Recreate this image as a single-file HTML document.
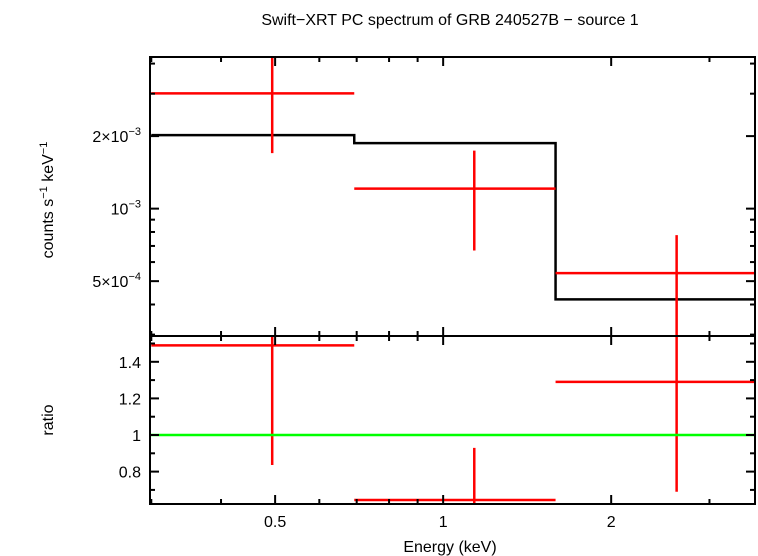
<!DOCTYPE html>
<html><head><meta charset="utf-8"><style>
body{margin:0;background:#fff}
svg{display:block;font-family:"Liberation Sans",sans-serif}
</style></head><body>
<svg id="chart" width="758" height="556" viewBox="0 0 758 556">
<text x="450" y="25" font-size="16" text-anchor="middle">Swift−XRT PC spectrum of GRB 240527B − source 1</text>
<g id="topPanel"></g>
<g id="botPanel"></g>
<text x="450" y="552" font-size="16" text-anchor="middle">Energy (keV)</text>
<text transform="translate(53,200) rotate(-90)" font-size="16" text-anchor="middle">counts s<tspan dy="-6" font-size="11">−1</tspan><tspan dy="6"> keV</tspan><tspan dy="-6" font-size="11">−1</tspan></text>
<text transform="translate(53,420) rotate(-90)" font-size="16" text-anchor="middle">ratio</text>
</svg>
<script>
const binLo=[0.3,0.693,1.59];
const binHi=[0.693,1.59,4.5];
const binMid=[0.494,1.137,2.62];
const rate=[3.01e-3,1.21e-3,5.4e-4];
const rateLo=[1.70e-3,6.7e-4,2.0e-4];
const rateHi=[4.5e-3,1.74e-3,7.76e-4];
const model=[2.02e-3,1.87e-3,4.2e-4];
const ratio=[1.49,0.645,1.29];
const ratioLo=[0.836,0.36,0.69];
const ratioHi=[2.2,0.93,1.87];
const xTicks=[0.5,1,2];
const xMinor=[0.3,0.4,0.6,0.7,0.8,0.9,3];
const yTopTicks=[5e-4,1e-3,2e-3];
const yTopLabels=["5×10<tspan dy='-7' font-size='11'>−4</tspan>","10<tspan dy='-7' font-size='11'>−3</tspan>","2×10<tspan dy='-7' font-size='11'>−3</tspan>"];
const yTopMinor=[3e-4,4e-4,6e-4,7e-4,8e-4,9e-4,3e-3,4e-3];
const yBotTicks=[0.8,1,1.2,1.4];
const yBotMinor=[0.7,0.9,1.1,1.3,1.5];

const L=150,R=755,T=57,M=336,B=504;
const xMin=Math.log10(0.2984),xMax=Math.log10(3.62);
const X=e=>L+(Math.log10(e)-xMin)/(xMax-xMin)*(R-L);
const tMin=Math.log10(2.96e-4),tMax=Math.log10(4.26e-3);
const YT=v=>M-(Math.log10(v)-tMin)/(tMax-tMin)*(M-T);
const bMin=0.623,bMax=1.541;
const YB=v=>B-(v-bMin)/(bMax-bMin)*(B-M);
const NS="http://www.w3.org/2000/svg";
function mk(p,tag,a){const e=document.createElementNS(NS,tag);for(const k in a)e.setAttribute(k,a[k]);p.appendChild(e);return e;}
const svg=document.getElementById('chart');
const topG=document.getElementById('topPanel'),botG=document.getElementById('botPanel');
const defs=mk(svg,'defs',{});
const c1=mk(defs,'clipPath',{id:'c1'});mk(c1,'rect',{x:L,y:T,width:R-L,height:M-T});
const c2=mk(defs,'clipPath',{id:'c2'});mk(c2,'rect',{x:L,y:M,width:R-L,height:B-M});
const gt=mk(topG,'g',{'clip-path':'url(#c1)'});
const gb=mk(botG,'g',{'clip-path':'url(#c2)'});
let d='';
for(let i=0;i<model.length;i++){d+=(i?'L':'M')+X(binLo[i])+','+YT(model[i])+'L'+X(binHi[i])+','+YT(model[i]);}
const mp=mk(gt,'path',{d:d,fill:'none',stroke:'#000','stroke-width':2.5});


for(let i=0;i<rate.length;i++){
  const g=mk(gt,'g',{stroke:'#f00','stroke-width':2.5});
  
  
  mk(g,'line',{x1:X(binLo[i]),x2:X(binHi[i]),y1:YT(rate[i]),y2:YT(rate[i])});
  mk(g,'line',{x1:X(binMid[i]),x2:X(binMid[i]),y1:YT(rateLo[i]),y2:YT(rateHi[i])});
  const h=mk(gb,'g',{stroke:'#f00','stroke-width':2.5});
  
  
  mk(h,'line',{x1:X(binLo[i]),x2:X(binHi[i]),y1:YB(ratio[i]),y2:YB(ratio[i])});
  mk(h,'line',{x1:X(binMid[i]),x2:X(binMid[i]),y1:YB(ratioLo[i]),y2:YB(ratioHi[i])});
}
const one=mk(gb,'line',{x1:L,x2:R,y1:YB(1),y2:YB(1),stroke:'#0f0','stroke-width':2.5});


for(const [g,y1,y2] of [[topG,T,M],[botG,M,B]]){
  const f=mk(g,'rect',{x:L,y:y1,width:R-L,height:y2-y1,fill:'none',stroke:'#000','stroke-width':2});
  
  
  for(const v of xTicks){const x=X(v);mk(g,'line',{x1:x,x2:x,y1:y1,y2:y1+9,stroke:'#000','stroke-width':2});mk(g,'line',{x1:x,x2:x,y1:y2,y2:y2-9,stroke:'#000','stroke-width':2});}
  for(const v of xMinor){const x=X(v);mk(g,'line',{x1:x,x2:x,y1:y1,y2:y1+5,stroke:'#000','stroke-width':2});mk(g,'line',{x1:x,x2:x,y1:y2,y2:y2-5,stroke:'#000','stroke-width':2});}
}
function yt(g,y,len){mk(g,'line',{x1:L,x2:L+len,y1:y,y2:y,stroke:'#000','stroke-width':2});mk(g,'line',{x1:R,x2:R-len,y1:y,y2:y,stroke:'#000','stroke-width':2});}
yTopTicks.forEach((v,i)=>{yt(topG,YT(v),9);const t=mk(topG,'text',{x:141,y:YT(v)+6,'font-size':16,'text-anchor':'end'});t.innerHTML=yTopLabels[i];});
yTopMinor.forEach(v=>yt(topG,YT(v),5));
yBotTicks.forEach(v=>{yt(botG,YB(v),9);const t=mk(botG,'text',{x:141,y:YB(v)+6,'font-size':16,'text-anchor':'end'});t.textContent=String(v);});
yBotMinor.forEach(v=>yt(botG,YB(v),5));
xTicks.forEach(v=>{const t=mk(svg,'text',{x:X(v),y:527,'font-size':16,'text-anchor':'middle'});t.textContent=String(v);});
</script>
</body></html>
